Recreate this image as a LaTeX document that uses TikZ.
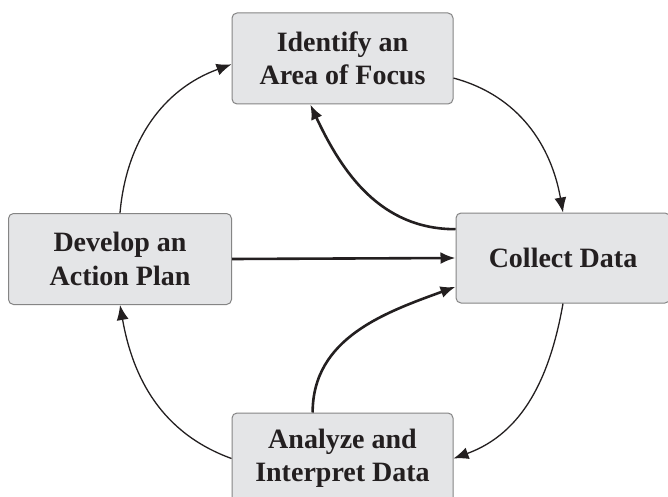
\documentclass[tikz,border=0pt]{standalone}
\usepackage{fontspec}
\setmainfont{Liberation Serif}
\usepackage{xcolor}
\usepackage{tikz}
\usetikzlibrary{arrows.meta}

\definecolor{boxfill}{HTML}{E4E5E7}
\definecolor{boxline}{HTML}{858585}
\definecolor{ink}{HTML}{231F20}

\tikzset{
  stage/.style={draw=boxline, line width=1pt, fill=boxfill, rounded corners=5pt,
    text=ink, align=center, inner sep=0pt,
    font=\fontsize{28}{33.5}\selectfont\bfseries},
  cycle/.style={draw=ink, line width=1.3pt, -{Latex[length=15pt,width=12pt]}},
  loop/.style={draw=ink, line width=2.6pt, -{Latex[length=15pt,width=12pt]}}
}

\begin{document}
\begin{tikzpicture}[x=1pt, y=1pt]
            \clip (0, 0) rectangle (668, 496);
            \fill[white] (0, 0) rectangle (668, 496);
            \node[stage, minimum width=221pt, minimum height=91pt] (focus) at (342.5, 437.5) {Identify an\\Area of Focus};
            \node[stage, minimum width=214pt, minimum height=90pt] (collect) at (563, 238) {Collect Data};
            \node[stage, minimum width=223pt, minimum height=91pt] (plan) at (120, 237) {Develop an\\Action Plan};
            \node[stage, minimum width=221pt, minimum height=91pt] (analyze) at (342.5, 37.5) {Analyze and\\Interpret Data};
            % outer cycle
            \draw[cycle] (focus.-10) to[out=-15, in=100] (collect.north);
            \draw[cycle] (collect.south) to[out=-100, in=20] (analyze.east);
            \draw[cycle] (analyze.west) to[out=160, in=-80] (plan.south);
            \draw[cycle] (plan.north) to[out=85, in=200] (focus.183);
            % inner arrows
            \draw[loop] (collect.165) to[out=180, in=-65] (focus.235);
            \draw[loop] (plan.east) -- (collect.west);
            \draw[loop] (analyze.123) to[out=90, in=200] (collect.195);
        \end{tikzpicture}
\end{document}
